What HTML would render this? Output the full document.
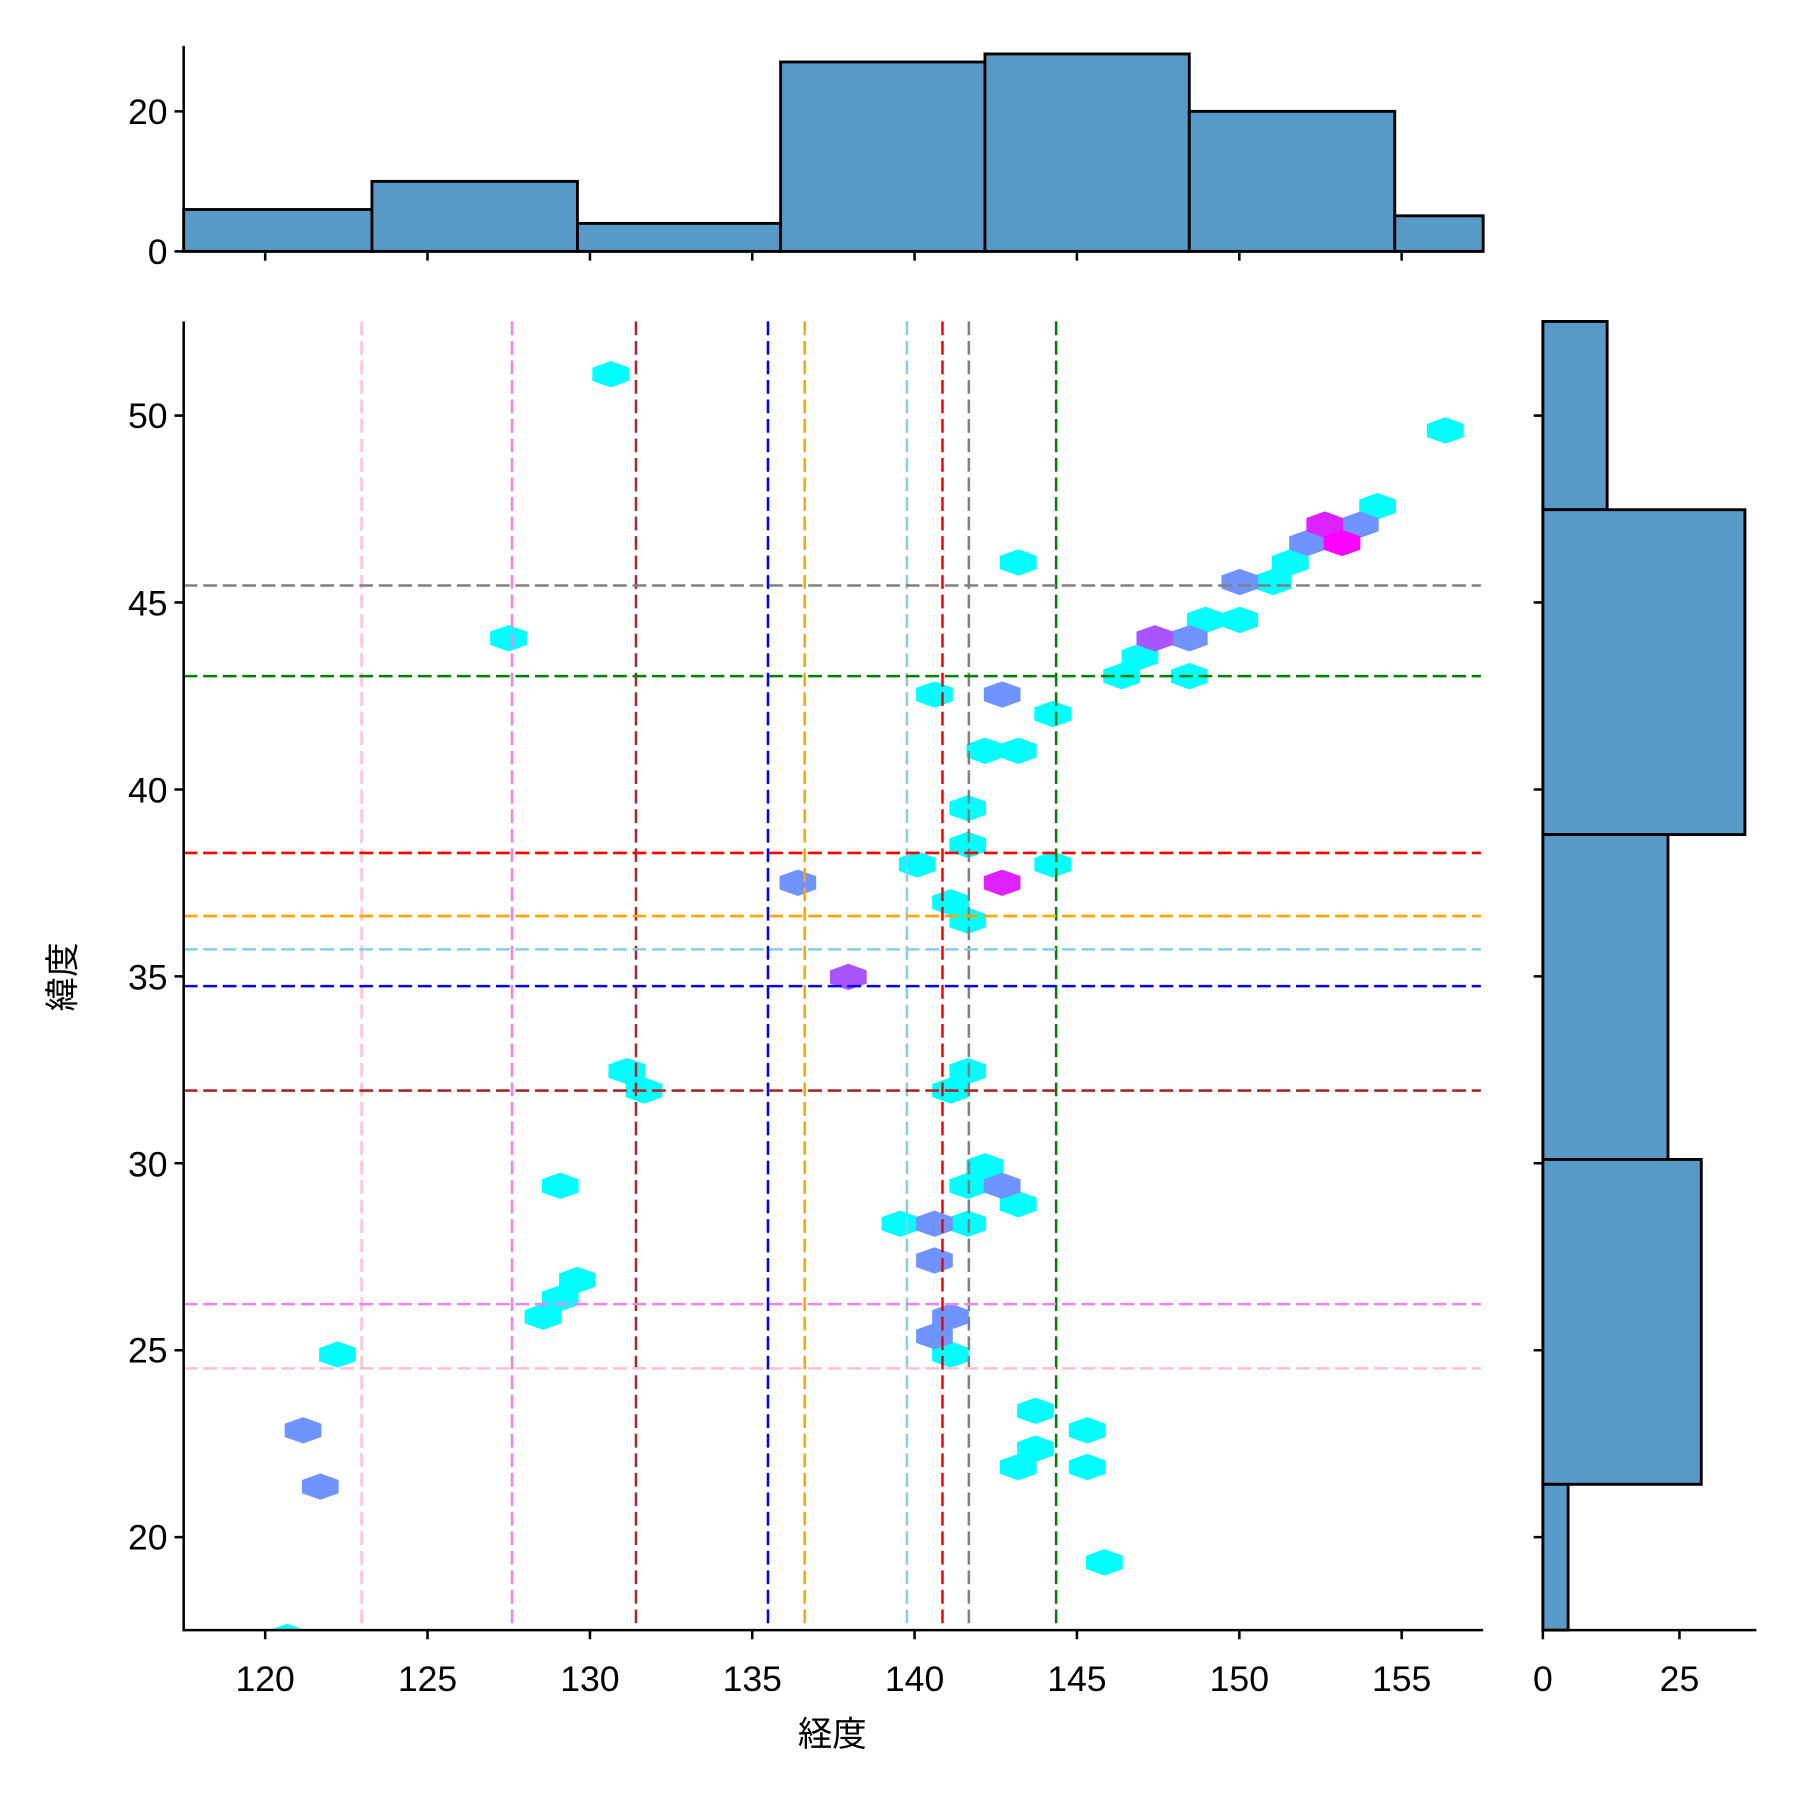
<!DOCTYPE html>
<html><head><meta charset="utf-8"><style>
html,body{margin:0;padding:0;background:#fff}
svg{display:block}
text{font-family:"Liberation Sans","Noto Sans CJK JP",sans-serif;fill:#000}
</style></head><body>
<svg width="1800" height="1800" viewBox="0 0 1568 1568" xmlns="http://www.w3.org/2000/svg">
<defs>
<polygon id="h" points="0,-11.5 16,-5.75 16,5.75 0,11.5 -16,5.75 -16,-5.75"/>
<clipPath id="c"><rect x="160" y="280" width="1132" height="1140"/></clipPath>
</defs>
<rect width="1568" height="1568" fill="#fff"/>
<g fill="#5799c7" stroke="#000" stroke-width="2.5">
<rect x="160" y="182.5" width="164" height="36.5"/>
<rect x="324" y="158" width="179" height="61"/>
<rect x="503" y="194.6" width="177" height="24.4"/>
<rect x="680" y="54" width="178" height="165"/>
<rect x="858" y="47" width="178" height="172"/>
<rect x="1036" y="97" width="179" height="122"/>
<rect x="1215" y="188" width="77" height="31"/>
</g>
<g stroke="#000" stroke-width="2.2" fill="none">
<line x1="160" y1="40" x2="160" y2="220"/>
<line x1="159" y1="219" x2="1292" y2="219"/>
<line x1="152" y1="219" x2="160" y2="219"/><line x1="152" y1="97" x2="160" y2="97"/>
</g>
<g font-size="31" text-anchor="end"><text x="146" y="230">0</text><text x="146" y="108">20</text></g>
<g fill="#5799c7" stroke="#000" stroke-width="2.5">
<rect x="1344" y="280" width="56" height="164"/>
<rect x="1344" y="444" width="176" height="283"/>
<rect x="1344" y="727" width="109" height="283"/>
<rect x="1344" y="1010" width="138" height="283"/>
<rect x="1344" y="1293" width="22" height="127"/>
</g>
<g stroke="#000" stroke-width="2.2" fill="none">
<line x1="1344" y1="280" x2="1344" y2="1421"/>
<line x1="1343" y1="1420" x2="1530" y2="1420"/>
<line x1="1344" y1="1420" x2="1344" y2="1428"/><line x1="1463" y1="1420" x2="1463" y2="1428"/>
</g>
<g font-size="31" text-anchor="middle"><text x="1344" y="1473">0</text><text x="1463" y="1473">25</text></g>
<g clip-path="url(#c)">
<g fill="#00ffff">
<use href="#h" x="532" y="326"/><use href="#h" x="1259" y="375"/><use href="#h" x="1200" y="441"/>
<use href="#h" x="1124" y="490"/><use href="#h" x="887" y="490"/><use href="#h" x="1109" y="507"/>
<use href="#h" x="1050" y="540"/><use href="#h" x="1080" y="540"/><use href="#h" x="443" y="556"/>
<use href="#h" x="993" y="572"/><use href="#h" x="977" y="589"/><use href="#h" x="1036" y="589"/>
<use href="#h" x="814" y="605"/><use href="#h" x="917" y="622"/><use href="#h" x="858" y="654"/>
<use href="#h" x="887" y="654"/><use href="#h" x="843" y="704"/><use href="#h" x="843" y="736"/>
<use href="#h" x="799" y="753"/><use href="#h" x="917" y="753"/><use href="#h" x="828" y="786"/>
<use href="#h" x="843" y="802"/><use href="#h" x="546" y="933"/><use href="#h" x="843" y="933"/>
<use href="#h" x="561" y="950"/><use href="#h" x="828" y="950"/><use href="#h" x="858" y="1016"/>
<use href="#h" x="488" y="1033"/><use href="#h" x="843" y="1033"/><use href="#h" x="887" y="1049"/>
<use href="#h" x="784" y="1066"/><use href="#h" x="843" y="1066"/><use href="#h" x="503" y="1115"/>
<use href="#h" x="488" y="1131"/><use href="#h" x="473" y="1147"/><use href="#h" x="828" y="1180"/>
<use href="#h" x="294" y="1180"/><use href="#h" x="902" y="1229"/><use href="#h" x="947" y="1246"/>
<use href="#h" x="902" y="1262"/><use href="#h" x="887" y="1278"/><use href="#h" x="947" y="1278"/>
<use href="#h" x="962" y="1361"/><use href="#h" x="250" y="1426"/>
</g>
<g fill="#6f94ff">
<use href="#h" x="1185" y="457"/><use href="#h" x="1139" y="473"/><use href="#h" x="1080" y="507"/>
<use href="#h" x="1036" y="556"/><use href="#h" x="873" y="605"/><use href="#h" x="695" y="769"/>
<use href="#h" x="873" y="1033"/><use href="#h" x="814" y="1066"/><use href="#h" x="814" y="1098"/>
<use href="#h" x="828" y="1147"/><use href="#h" x="814" y="1164"/><use href="#h" x="264" y="1246"/>
<use href="#h" x="279" y="1295"/>
</g>
<g fill="#dd22ff"><use href="#h" x="1154" y="457"/><use href="#h" x="873" y="769"/></g>
<g fill="#ff00ff"><use href="#h" x="1169" y="473"/></g>
<g fill="#a855ff"><use href="#h" x="1006" y="556"/><use href="#h" x="739" y="851"/></g>
</g>
<g stroke-width="2.2" stroke-dasharray="12,5" fill="none">
<line x1="315" y1="280" x2="315" y2="1420" stroke="pink"/>
<line x1="446" y1="280" x2="446" y2="1420" stroke="violet"/>
<line x1="554" y1="280" x2="554" y2="1420" stroke="brown"/>
<line x1="669" y1="280" x2="669" y2="1420" stroke="blue"/>
<line x1="701" y1="280" x2="701" y2="1420" stroke="orange"/>
<line x1="790" y1="280" x2="790" y2="1420" stroke="skyblue"/>
<line x1="821" y1="280" x2="821" y2="1420" stroke="red"/>
<line x1="844" y1="280" x2="844" y2="1420" stroke="gray"/>
<line x1="920" y1="280" x2="920" y2="1420" stroke="green"/>
<line x1="160" y1="510" x2="1290" y2="510" stroke="gray"/>
<line x1="160" y1="589" x2="1290" y2="589" stroke="green"/>
<line x1="160" y1="743" x2="1290" y2="743" stroke="red"/>
<line x1="160" y1="798" x2="1290" y2="798" stroke="orange"/>
<line x1="160" y1="827" x2="1290" y2="827" stroke="skyblue"/>
<line x1="160" y1="859" x2="1290" y2="859" stroke="blue"/>
<line x1="160" y1="950" x2="1290" y2="950" stroke="brown"/>
<line x1="160" y1="1136" x2="1290" y2="1136" stroke="violet"/>
<line x1="160" y1="1192" x2="1290" y2="1192" stroke="pink"/>
</g>
<g stroke="#000" stroke-width="2.2" fill="none">
<line x1="160" y1="280" x2="160" y2="1421"/>
<line x1="159" y1="1420" x2="1292" y2="1420"/>
<path d="M231,1420v8M372.4,1420v8M513.9,1420v8M655.3,1420v8M796.7,1420v8M938.1,1420v8M1079.6,1420v8M1221,1420v8"/>
<path d="M231,219v8M372.4,219v8M513.9,219v8M655.3,219v8M796.7,219v8M938.1,219v8M1079.6,219v8M1221,219v8"/>
<path d="M152,362h8M152,524.8h8M152,687.7h8M152,850.5h8M152,1013.3h8M152,1176.2h8M152,1339h8"/>
<path d="M1336,362h8M1336,524.8h8M1336,687.7h8M1336,850.5h8M1336,1013.3h8M1336,1176.2h8M1336,1339h8"/>
</g>
<g font-size="31" text-anchor="middle">
<text x="231" y="1473">120</text><text x="372.4" y="1473">125</text><text x="513.9" y="1473">130</text>
<text x="655.3" y="1473">135</text><text x="796.7" y="1473">140</text><text x="938.1" y="1473">145</text>
<text x="1079.6" y="1473">150</text><text x="1221" y="1473">155</text>
</g>
<g font-size="31" text-anchor="end">
<text x="146" y="373">50</text><text x="146" y="536">45</text><text x="146" y="699">40</text>
<text x="146" y="862">35</text><text x="146" y="1025">30</text><text x="146" y="1187">25</text><text x="146" y="1350">20</text>
</g>
<text x="725" y="1521" font-size="30" text-anchor="middle">経度</text>
<text transform="translate(65,851) rotate(-90)" font-size="30" text-anchor="middle">緯度</text>
</svg>
</body></html>
